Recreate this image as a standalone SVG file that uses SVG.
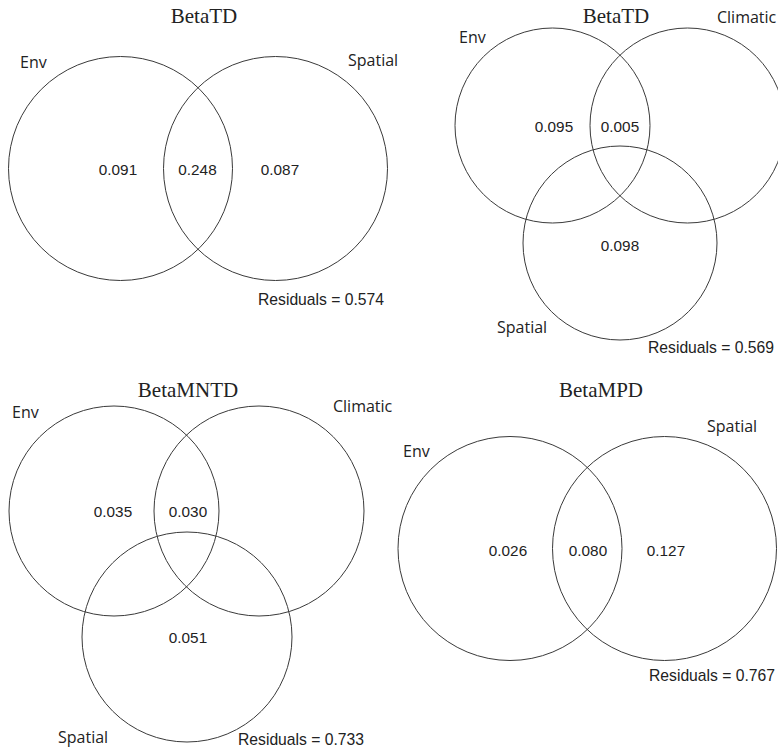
<svg xmlns="http://www.w3.org/2000/svg" width="778" height="749" viewBox="0 0 778 749">
<style>
.c{fill:none;stroke:#3a3a3a;stroke-width:1}
.t{font-family:"Liberation Serif","Times New Roman",serif;font-size:21px;fill:#222;text-anchor:middle}
.l{font-family:"Open Sans","DejaVu Sans",sans-serif;font-size:16px;fill:#222}
.n{font-family:"Liberation Sans",Arial,sans-serif;font-size:15.3px;fill:#222;text-anchor:middle}
.r{font-family:"Liberation Sans",Arial,sans-serif;font-size:15.7px;fill:#222}
</style>
<rect width="778" height="749" fill="#fff"/>
<g id="panel1">
<text class="t" x="204" y="23">BetaTD</text>
<circle class="c" cx="120.5" cy="168.5" r="112"/>
<circle class="c" cx="275.5" cy="168.5" r="112"/>
<text class="l" x="20" y="68">Env</text>
<text class="l" x="348" y="66">Spatial</text>
<text class="n" x="118" y="175">0.091</text>
<text class="n" x="197.5" y="175">0.248</text>
<text class="n" x="280" y="175">0.087</text>
<text class="r" x="258" y="305">Residuals = 0.574</text>
</g>
<g id="panel2">
<text class="t" x="616" y="23">BetaTD</text>
<circle class="c" cx="552.5" cy="125.5" r="97.5"/>
<circle class="c" cx="687.5" cy="125.5" r="97.5"/>
<circle class="c" cx="620" cy="243" r="97"/>
<text class="l" x="459" y="43">Env</text>
<text class="l" x="717" y="23">Climatic</text>
<text class="l" x="497" y="333">Spatial</text>
<text class="n" x="554" y="132">0.095</text>
<text class="n" x="620" y="132">0.005</text>
<text class="n" x="620" y="251">0.098</text>
<text class="r" x="648" y="353">Residuals = 0.569</text>
</g>
<g id="panel3">
<text class="t" x="188" y="397">BetaMNTD</text>
<circle class="c" cx="114" cy="511" r="105"/>
<circle class="c" cx="259" cy="511" r="105"/>
<circle class="c" cx="187" cy="637" r="105"/>
<text class="l" x="12" y="418">Env</text>
<text class="l" x="333" y="412">Climatic</text>
<text class="l" x="58" y="743">Spatial</text>
<text class="n" x="113" y="517">0.035</text>
<text class="n" x="188" y="517">0.030</text>
<text class="n" x="188" y="643">0.051</text>
<text class="r" x="238" y="745">Residuals = 0.733</text>
</g>
<g id="panel4">
<text class="t" x="601" y="397">BetaMPD</text>
<circle class="c" cx="510" cy="548.5" r="112"/>
<circle class="c" cx="664.5" cy="548.5" r="112"/>
<text class="l" x="403" y="457">Env</text>
<text class="l" x="707" y="432">Spatial</text>
<text class="n" x="508" y="556">0.026</text>
<text class="n" x="588" y="556">0.080</text>
<text class="n" x="666" y="556">0.127</text>
<text class="r" x="649" y="681">Residuals = 0.767</text>
</g>
<g id="connectors"></g>
</svg>
